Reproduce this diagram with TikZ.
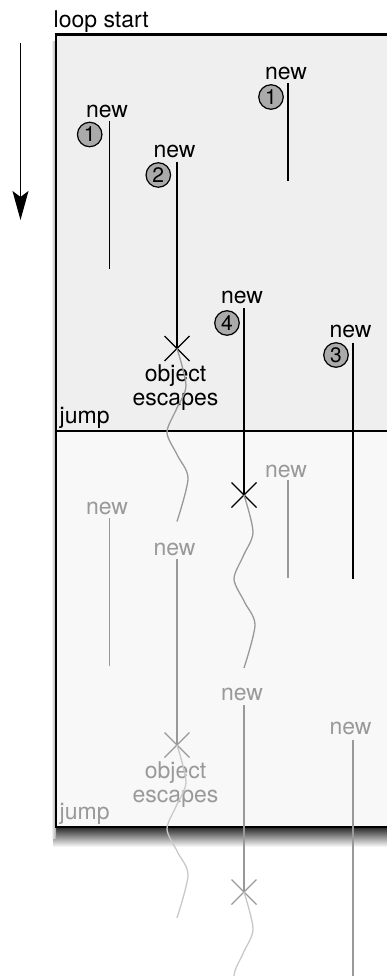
\documentclass[tikz,border=0pt]{standalone}
\usepackage{fontspec}
\setmainfont{TeX Gyre Heros}
\usetikzlibrary{arrows.meta,shapes.misc}
\definecolor{topfill}{HTML}{EFEFEF}
\definecolor{botfill}{HTML}{F8F8F8}
\definecolor{ghost}{HTML}{999999}
\definecolor{wavegray}{HTML}{999999}
\definecolor{wavelight}{HTML}{C8C8C8}
\definecolor{circfill}{HTML}{AAAAAA}
\tikzset{
  lbl/.style={anchor=base, inner sep=0pt, font=\fontsize{23}{23}\selectfont},
  ghostlbl/.style={lbl, text=ghost},
  num/.style={circle, draw, line width=1.2pt, fill=circfill, minimum size=24.5pt, inner sep=0pt, font=\fontsize{21}{21}\selectfont},
  life/.style={line width=1.6pt},
  ghostlife/.style={life, draw=ghost},
  kill/.style={cross out, draw, line width=1.3pt, minimum size=25pt, inner sep=0pt, outer sep=0pt},
  ghostkill/.style={kill, draw=ghost},
  wave/.style={line width=1.3pt, draw=wavegray},
  ghostwave/.style={wave, draw=wavelight},
  frame/.style={line width=2.5pt}
}
\begin{document}
\begin{tikzpicture}[x=1pt, y=-1pt]
\path[use as bounding box, clip] (0,0) rectangle (387,976);
% shadow
\shade[top color=black!85, bottom color=white] (53,827) rectangle (387,847);
\shade[left color=white, right color=black!35] (51,42) rectangle (56,838);
% fills
\fill[topfill] (56,34.5) rectangle (400,431);
\fill[botfill] (56,431) rectangle (400,827);
% frame
\draw[frame] (56,34.5) rectangle (400,827);
\draw[frame] (56,431) -- (400,431);
% labels of frame
\node[lbl, anchor=base west] (loopstart) at (53.5,27.5) {loop start};
\node[lbl, anchor=base west] (jump1) at (59.5,423) {jump};
\node[ghostlbl, anchor=base west] (jump2) at (59.5,819) {jump};
% time arrow
\coordinate (arrS) at (20.5,43);
\coordinate (arrE) at (20.5,220);
\draw[line width=1.3pt, -{Stealth[length=29pt, width=16pt, inset=6pt]}] (arrS) -- (arrE);

% ===== lower (ghost) copy =====
\node[ghostlbl] (newA2) at (107,514.5) {new};
\node[ghostlbl] (newB2) at (174.5,555) {new};
\node[ghostlbl] (newC2) at (286,477) {new};
\node[ghostlbl] (newD2) at (242,700) {new};
\node[ghostlbl] (newE2) at (350.5,734) {new};
\coordinate (a2t) at (109.5,518);  \coordinate (a2b) at (109.5,666);
\coordinate (b2t) at (177,559);
\coordinate (c2t) at (288,480);    \coordinate (c2b) at (288,578);
\coordinate (d2t) at (244,705);
\coordinate (e2t) at (353,740);    \coordinate (e2b) at (353,990);
\node[ghostkill] (xB2) at (177,745) {};
\node[ghostkill] (xD2) at (244,892) {};
\draw[ghostlife] (a2t) -- (a2b);
\draw[ghostlife] (b2t) -- (xB2.center);
\draw[ghostlife] (c2t) -- (c2b);
\draw[ghostlife] (d2t) -- (xD2.center);
\draw[ghostlife] (e2t) -- (e2b);
\node[ghostlbl] (obj2) at (175.5,778.7) {object};
\node[ghostlbl] (esc2) at (175.5,802) {escapes};
\draw[ghostwave, shift={(xB2.center)}] plot[smooth] coordinates {(0,0) (9,37) (-0.5,60.5) (-10,84) (0.5,107) (11,130) (0,173)};
\draw[ghostwave, shift={(xD2.center)}] plot[smooth] coordinates {(0,0) (9,37) (-0.5,60.5) (-10,84) (0.5,107) (11,130) (0,173)};

% ===== upper copy =====
\node[lbl] (newA) at (107,117.5) {new};
\node[lbl] (newB) at (174.5,158) {new};
\node[lbl] (newC) at (286,80) {new};
\node[lbl] (newD) at (242,303) {new};
\node[lbl] (newE) at (350.5,337) {new};
\node[num] (cA) at (89.7,134.5) {1};
\node[num] (cB) at (158.3,175) {2};
\node[num] (cC) at (271,97) {1};
\node[num] (cD) at (227,323) {4};
\node[num] (cE) at (336,355) {3};
\coordinate (at) at (109.5,121);  \coordinate (ab) at (109.5,269);
\coordinate (bt) at (177,162);
\coordinate (ct) at (288,83);     \coordinate (cb) at (288,181);
\coordinate (dt) at (244,308);
\coordinate (et) at (353,343);    \coordinate (eb) at (353,579);
\node[kill] (xB) at (177,348.5) {};
\node[kill] (xD) at (244,495) {};
\draw[life] (at) -- (ab);
\draw[life] (bt) -- (xB.center);
\draw[life] (ct) -- (cb);
\draw[life] (dt) -- (xD.center);
\draw[life] (et) -- (eb);
\node[lbl] (obj) at (175.5,381.7) {object};
\node[lbl] (esc) at (175.5,405) {escapes};
\draw[wave, shift={(xB.center)}] plot[smooth] coordinates {(0,0) (9,37) (-0.5,60.5) (-10,84) (0.5,107) (11,130) (0,173)};
\draw[wave, shift={(xD.center)}] plot[smooth] coordinates {(0,0) (9,37) (-0.5,60.5) (-10,84) (0.5,107) (11,130) (0,173)};
\end{tikzpicture}
\end{document}
